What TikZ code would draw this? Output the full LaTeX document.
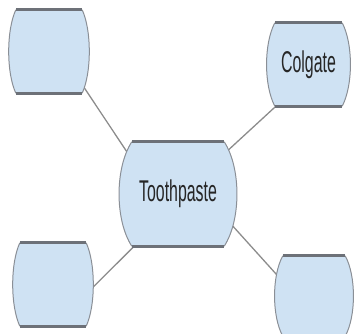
\documentclass[tikz,border=0pt]{standalone}
\usepackage{fontspec}
\newfontfamily\narrowfont[FakeStretch=0.53]{Liberation Sans}
\definecolor{ideafill}{HTML}{CFE2F3}
\definecolor{ideaside}{HTML}{8A8F96}
\definecolor{ideaedge}{HTML}{6D7178}
\definecolor{linkgray}{HTML}{8C8C8C}
\pgfdeclarelayer{links}
\pgfdeclarelayer{shapes}
\pgfsetlayers{links,shapes,main}
\tikzset{
  idea/.style={rectangle, inner sep=0pt, text=black!85,
    font=\narrowfont\fontsize{30}{30}\selectfont},
  link/.style={draw=linkgray, line width=1.3pt}
}

\begin{document}
\begin{tikzpicture}[x=1pt, y=-1pt]
  \useasboundingbox (0,0) rectangle (354,334);

  \node[idea, minimum width=66pt, minimum height=83pt]  (topleft)  at (49,51.5)   {};
  \node[idea, minimum width=67pt, minimum height=83pt]  (colgate)  at (308.5,64.5) {Colgate};
  \node[idea, minimum width=92pt, minimum height=104pt] (paste)    at (178,194)   {Toothpaste};
  \node[idea, minimum width=66pt, minimum height=83pt]  (botleft)  at (53,284.5)  {};
  \node[idea, minimum width=62pt, minimum height=80pt]  (botright) at (314,296)   {};

  % barrel outlines: curved sides, flat top and bottom
  \begin{pgfonlayer}{shapes}
    \foreach \n/\c/\v in {topleft/9.5/21, colgate/11/21, paste/17/26, botleft/9.5/21, botright/11/20} {
      \fill[ideafill] (\n.north west) -- (\n.north east)
        .. controls +(\c,\v) and +(\c,-\v) .. (\n.south east) -- (\n.south west)
        .. controls +(-\c,-\v) and +(-\c,\v) .. (\n.north west) -- cycle;
      \draw[ideaside, line width=1pt] (\n.north east)
        .. controls +(\c,\v) and +(\c,-\v) .. (\n.south east);
      \draw[ideaside, line width=1pt] (\n.south west)
        .. controls +(-\c,-\v) and +(-\c,\v) .. (\n.north west);
      \draw[ideaedge, line width=3pt] (\n.north west) -- (\n.north east);
      \draw[ideaedge, line width=3pt] (\n.south west) -- (\n.south east);
    }
  \end{pgfonlayer}

  \begin{pgfonlayer}{links}
    \draw[link] (topleft.-45.4) -- (paste.143.5);
    \draw[link] (colgate.-128.6) -- (paste.41);
    \draw[link] (paste.-130.6) -- (botleft.-16);
    \draw[link] (paste.-26.6) -- (botright.155.4);
  \end{pgfonlayer}
\end{tikzpicture}
\end{document}
